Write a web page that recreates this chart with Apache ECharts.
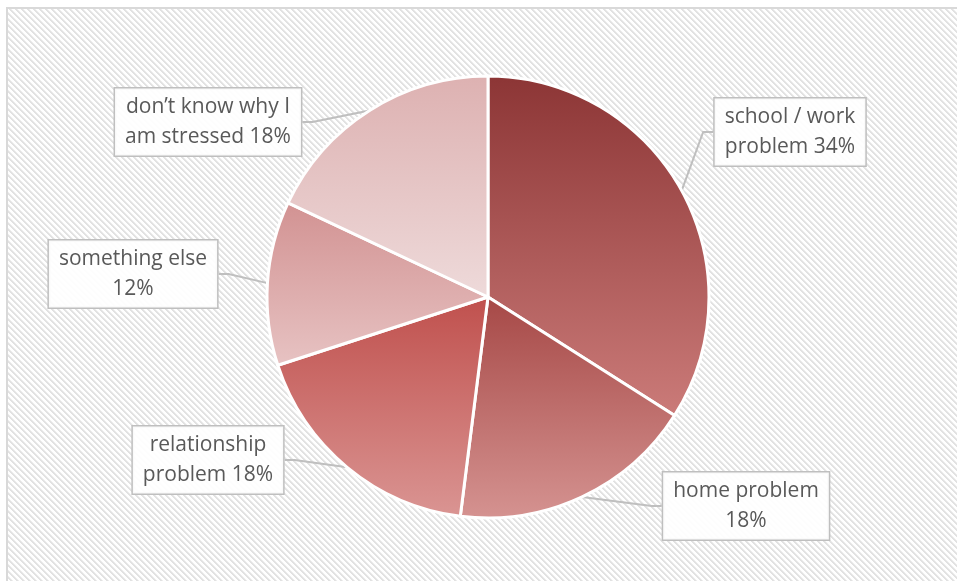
<!DOCTYPE html>
<html>
<head>
<meta charset="utf-8">
<script src="https://cdn.jsdelivr.net/npm/echarts@6/dist/echarts.min.js"></script>
<style>
  html, body { margin: 0; padding: 0; background: #ffffff; }
  #chart { width: 957px; height: 581px; }
</style>
</head>
<body>
<div id="chart"></div>
<script>
// Sources of stress, share of respondents (%)
const categories = [
  'school / work\nproblem',
  'home problem',
  'relationship\nproblem',
  'something else',
  'don\u2019t know why I\nam stressed'
];
const shares = [34, 18, 18, 12, 18];

// Vertical shade (top, bottom) for each slice
const sliceShades = [
  ['#8C3535', '#CB7B79'],
  ['#A64846', '#D59391'],
  ['#C0504D', '#DA9593'],
  ['#D29292', '#E7C3C3'],
  ['#DDB1B1', '#EEDADA']
];

// Callout box centres
const calloutCentres = [
  [790, 132],
  [746, 506],
  [208, 460],
  [133, 274],
  [208, 122]
];

// Diagonal hatch tile for the chart background
function hatchTile() {
  const n = 6;
  const c = document.createElement('canvas');
  c.width = n; c.height = n;
  const g = c.getContext('2d');
  g.fillStyle = '#ffffff';
  g.fillRect(0, 0, n, n);
  for (let y = 0; y < n; y++) {
    for (let x = 0; x < n; x++) {
      const k = ((x - y) % n + n) % n;
      if (k === 0 || k === 1) { g.fillStyle = '#e2e2e2'; g.fillRect(x, y, 1, 1); }
      else if (k === 2) { g.fillStyle = '#eeeeee'; g.fillRect(x, y, 1, 1); }
    }
  }
  return c;
}

const chart = echarts.init(document.getElementById('chart'), null, { renderer: 'canvas' });

const pieData = categories.map((name, i) => ({
  name: name,
  value: shares[i],
  itemStyle: {
    color: new echarts.graphic.LinearGradient(0, 0, 0, 1, [
      { offset: 0, color: sliceShades[i][0] },
      { offset: 1, color: sliceShades[i][1] }
    ])
  }
}));

chart.setOption({
  animation: false,
  backgroundColor: '#ffffff',
  graphic: [{
    type: 'rect',
    silent: true,
    z: -10,
    shape: { x: 7, y: 8, width: 1000, height: 1000 },
    style: {
      fill: { image: hatchTile(), repeat: 'repeat' },
      stroke: '#d9d9d9',
      lineWidth: 2
    }
  }],
  series: [{
    type: 'pie',
    center: [488, 297],
    radius: 221,
    startAngle: 90,
    clockwise: true,
    data: pieData,
    itemStyle: { borderColor: '#ffffff', borderWidth: 3 },
    emphasis: { disabled: true },
    label: {
      show: true,
      formatter: p => p.name + (p.name.indexOf('\n') >= 0 ? ' ' : '\n') + p.value + '%',
      fontFamily: 'Open Sans',
      fontSize: 21,
      lineHeight: 30,
      color: '#595959',
      align: 'center',
      backgroundColor: 'rgba(255,255,255,0.92)',
      borderColor: '#bfbfbf',
      borderWidth: 1.5,
      padding: [4, 10, 3, 10]
    },
    labelLine: {
      show: true,
      length: 10,
      length2: 10,
      smooth: false,
      lineStyle: { color: '#bfbfbf', width: 2 }
    },
    labelLayout: function (params) {
      const c = calloutCentres[params.dataIndex];
      return { x: c[0], y: c[1], align: 'center', verticalAlign: 'middle' };
    }
  }]
});
</script>
</body>
</html>
